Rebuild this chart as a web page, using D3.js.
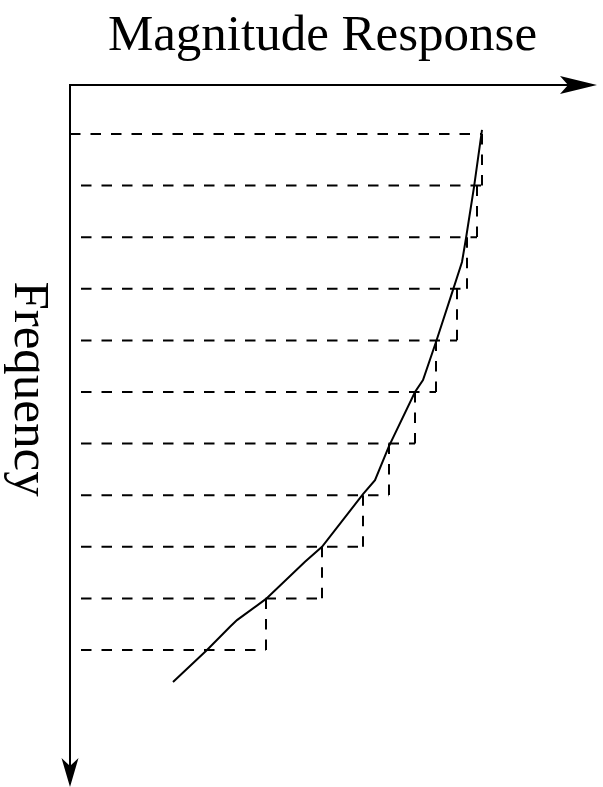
<!DOCTYPE html>
<html>
<head>
<meta charset="utf-8">
<script src="https://cdn.jsdelivr.net/npm/d3@7"></script>
<style>
  html, body { margin: 0; padding: 0; background: #fff; }
  svg { display: block; }
</style>
</head>
<body>
<div id="chart"></div>
<script>
// sampled frequencies (index units) and held magnitude at each sample
const sampleFreqs = [1, 2, 3, 4, 5, 6, 7, 8, 9, 10, 11];
const sampleMags = [82.4, 81.4, 79.4, 77.4, 73.2, 69.0, 63.8, 58.6, 50.4, 39.2, 28.0];

// continuous magnitude response curve
const curveFreqs = [0.92, 2.03, 3.02, 3.48, 4.02, 5.03, 5.77, 6.00, 7.05, 7.71, 7.98, 9.00, 9.29, 10.01, 10.42, 10.55, 11.00, 11.62];
const curveMags = [82.4, 80.8, 79.2, 78.4, 76.6, 73.2, 70.6, 69.0, 63.8, 61.0, 58.6, 50.4, 47.0, 39.2, 33.4, 32.0, 27.4, 20.6];

const width = 603, height = 787;
const originX = 70, originY = 85;

const x = d3.scaleLinear().domain([0, 100]).range([originX, 570]);
const y = d3.scaleLinear().domain([1, 11]).range([134, 650]);

const svg = d3.select('#chart').append('svg')
  .attr('width', width)
  .attr('height', height);

const fontFamily = '"Liberation Serif", "Times New Roman", serif';

// title and axis label
svg.append('text')
  .attr('x', 322.5)
  .attr('y', 50)
  .attr('text-anchor', 'middle')
  .style('font-family', fontFamily)
  .style('font-size', '51px')
  .text('Magnitude Response');

svg.append('text')
  .attr('transform', 'translate(15, 389) rotate(90)')
  .attr('text-anchor', 'middle')
  .style('font-family', fontFamily)
  .style('font-size', '51px')
  .text('Frequency');

// dashed grid + staircase
const dashStyle = g => g
  .attr('stroke', '#000')
  .attr('stroke-width', 2)
  .attr('stroke-dasharray', '10.5,10')
  .attr('fill', 'none');

svg.append('g').call(dashStyle)
  .selectAll('line.h')
  .data(sampleFreqs)
  .join('line')
  .attr('class', 'h')
  .attr('x1', (d, i) => i === 0 ? originX : 81)
  .attr('x2', (d, i) => x(sampleMags[Math.max(i - 1, 0)]))
  .attr('y1', d => y(d))
  .attr('y2', d => y(d));

svg.append('g').call(dashStyle)
  .selectAll('line.v')
  .data(sampleFreqs.slice(0, -1))
  .join('line')
  .attr('class', 'v')
  .attr('x1', (d, i) => x(sampleMags[i]))
  .attr('x2', (d, i) => x(sampleMags[i]))
  .attr('y1', (d, i) => y(sampleFreqs[i]))
  .attr('y2', (d, i) => y(sampleFreqs[i + 1]));

// response curve
const line = d3.line()
  .x(d => x(d[1]))
  .y(d => y(d[0]));

svg.append('path')
  .datum(curveFreqs.map((f, i) => [f, curveMags[i]]))
  .attr('d', line)
  .attr('fill', 'none')
  .attr('stroke', '#000')
  .attr('stroke-width', 2);

// axes with arrow heads
svg.append('path')
  .attr('d', `M${originX},${originY - 1}V771`)
  .attr('stroke', '#000')
  .attr('stroke-width', 2);
svg.append('path')
  .attr('d', `M${originX - 1},${originY}H575`)
  .attr('stroke', '#000')
  .attr('stroke-width', 2);

svg.append('path')
  .attr('d', 'M597,85 L560,76 L568,85 L560,94 Z')
  .attr('fill', '#000');
svg.append('path')
  .attr('d', 'M70,787 L61.5,758 L70,766 L78.5,758 Z')
  .attr('fill', '#000');
</script>
</body>
</html>
